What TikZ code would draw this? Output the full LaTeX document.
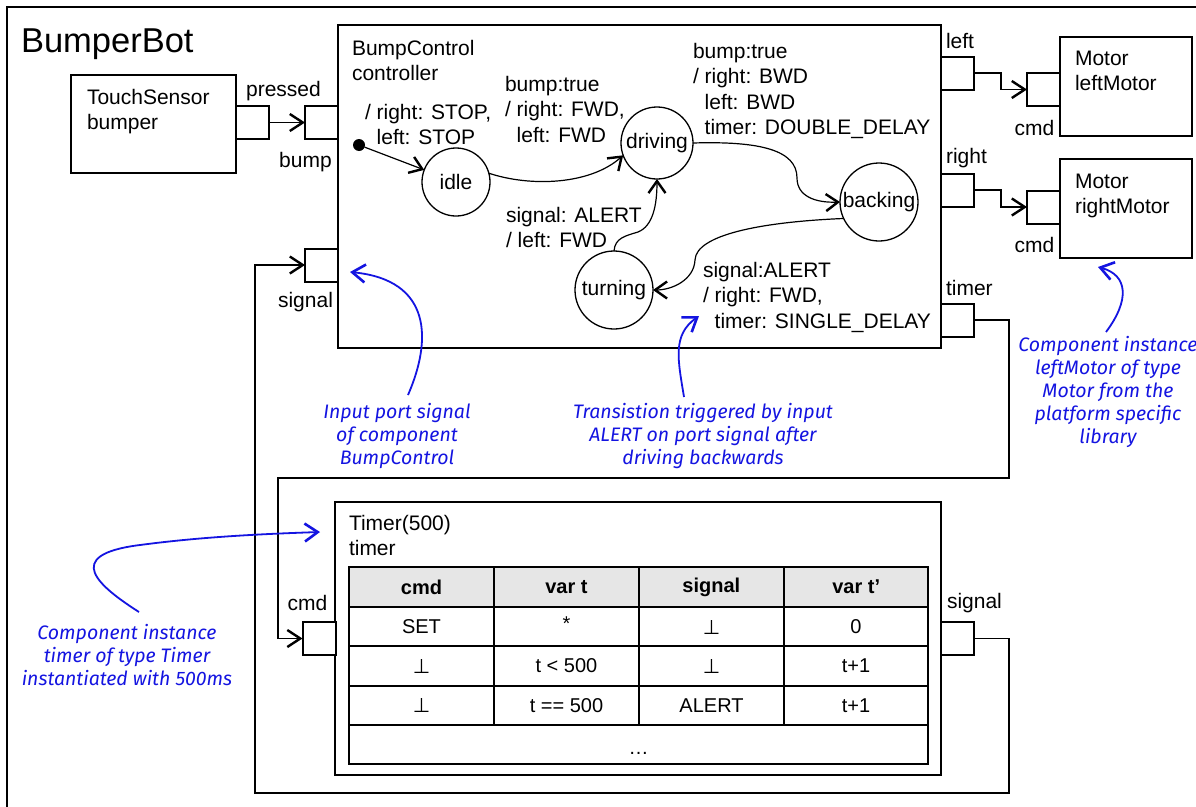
\documentclass[tikz,border=0pt]{standalone}
\usepackage{fontspec}
\setmainfont{Liberation Sans}
\newfontfamily\notefont{Fira Sans}
\newfontfamily\tackfont{DejaVu Sans}
\usetikzlibrary{arrows.meta}
\definecolor{noteblue}{RGB}{20,20,225}
\definecolor{hdrgray}{RGB}{230,230,230}
\begin{document}
\begin{tikzpicture}[x=1pt,y=-1pt,
  every node/.style={inner sep=0pt, outer sep=0pt},
  comp/.style={draw, line width=2pt, rectangle, anchor=north west},
  port/.style={draw, line width=2pt, rectangle, minimum size=33pt, fill=white},
  st/.style={draw, circle, line width=1.3pt, inner sep=0pt, font=\fontsize{21}{25.5}\selectfont},
  txt/.style={font=\fontsize{21}{25.5}\selectfont, align=left, anchor=north west},
  plbl/.style={font=\fontsize{21}{25.5}\selectfont},
  cell/.style={font=\fontsize{20}{24}\selectfont},
  conn/.style={line width=1.4pt, -{Straight Barb[length=13pt,width=17pt,line width=2.4pt]}},
  trans/.style={line width=1.2pt, -{Straight Barb[length=12pt,width=17pt,line width=2.4pt]}},
  note/.style={text=noteblue, font=\notefont\itshape\fontsize{19.5}{23}\selectfont, align=center, anchor=north},
  nconn/.style={draw=noteblue, line width=1.8pt, -{Straight Barb[length=13pt,width=18pt,line width=2.6pt]}},
  tbl/.style={line width=1.3pt}
]
\useasboundingbox (0,0) rectangle (1196,806);
\clip (0,0) rectangle (1196,806);
\fill[white] (0,0) rectangle (1196,806);

% outer frame
\draw[line width=2pt] (7,7) rectangle (1260,860);
\node[anchor=north west, font=\fontsize{34.5}{40}\selectfont] (title) at (21,29) {BumperBot};

% components
\node[comp, minimum width=165pt, minimum height=98pt] (ts) at (71,75) {};
\node[txt] (tstxt) at (87,89) {TouchSensor\\bumper};

\node[comp, minimum width=603pt, minimum height=323pt] (bc) at (338,25) {};
\node[txt] (bctxt) at (352,40) {BumpControl\\controller};

\node[comp, minimum width=132pt, minimum height=99pt] (lm) at (1060,37) {};
\node[txt] (lmtxt) at (1075,51) {Motor\\leftMotor};

\node[comp, minimum width=132pt, minimum height=99pt] (rm) at (1060,159) {};
\node[txt] (rmtxt) at (1075,174) {Motor\\rightMotor};

\node[comp, minimum width=606pt, minimum height=273pt] (tm) at (335,502) {};
\node[txt] (tmtxt) at (349,515) {Timer(500)\\timer};

% table
\fill[hdrgray] (349,567) rectangle (928,607);
\draw[tbl] (349,567) rectangle (928,764);
\foreach \yy in {607,646,686,725} \draw[tbl] (349,\yy) -- (928,\yy);
\foreach \xx in {494,639,784} \draw[tbl] (\xx,567) -- (\xx,725);
\foreach \t [count=\i] in {cmd,var t,signal,var t’}
  \node[cell, font=\fontsize{20}{24}\selectfont\bfseries] (h\i) at ({421.5+(\i-1)*144.9},587) {\t};
\node[cell] (c11) at (421.5,627) {SET};
\node[cell] (c12) at (566.5,624) {*};
\node[cell] (c13) at (711.5,627) {\tackfont ⊥};
\node[cell] (c14) at (856,627) {0};
\node[cell] (c21) at (421.5,666) {\tackfont ⊥};
\node[cell] (c22) at (566.5,666) {t < 500};
\node[cell] (c23) at (711.5,666) {\tackfont ⊥};
\node[cell] (c24) at (856,666) {t+1};
\node[cell] (c31) at (421.5,705.5) {\tackfont ⊥};
\node[cell] (c32) at (566.5,705.5) {t == 500};
\node[cell] (c33) at (711.5,705.5) {ALERT};
\node[cell] (c34) at (856,705.5) {t+1};
\node[cell, anchor=base] (c41) at (638.5,754) {\dots};

% wires
\coordinate (w1) at (1009,478);
\coordinate (w2) at (278,478);
\coordinate (w3) at (1009,793);
\coordinate (w4) at (255,793);

% ports
\node[port] (pressed) at (252.5,122.5) {};
\node[port] (bump) at (321.5,122.5) {};
\node[port] (sig) at (321.5,265) {};
\node[port] (left) at (957.5,73) {};
\node[port] (right) at (957.5,190) {};
\node[port] (timerp) at (957.5,320) {};
\node[port] (lcmd) at (1043.5,89.5) {};
\node[port] (rcmd) at (1043.5,207) {};
\node[port] (tcmd) at (319,638.5) {};
\node[port] (tsig) at (957.5,638.5) {};

% port labels
\node[plbl] (lpressed) at (283.5,91) {pressed};
\node[plbl] (lbump) at (305.5,162) {bump};
\node[plbl] (lsig) at (305.5,302) {signal};
\node[plbl, anchor=west] (lleft) at (946,41) {left};
\node[plbl, anchor=west] (lright) at (946,158) {right};
\node[plbl, anchor=west] (ltimer) at (946,288) {timer};
\node[plbl] (llcmd) at (1034.5,128) {cmd};
\node[plbl] (lrcmd) at (1034.5,245) {cmd};
\node[plbl] (ltcmd) at (307.5,603) {cmd};
\node[plbl, anchor=west] (ltsig) at (947,603) {signal};

% connectors
\draw[conn] (pressed.east) -- (bump.west);
\draw[conn] (left.east) -- ++(27,0) |- (lcmd.west);
\draw[conn] (right.east) -- ++(27,0) |- (rcmd.west);
\draw[conn] (timerp.east) -| (w1) -- (w2) |- (tcmd.west);
\draw[conn] (tsig.east) -| (w3) -- (w4) |- (sig.west);

% state machine
\node[circle, fill, minimum size=12pt] (init) at (359,145) {};
\node[st, minimum size=68pt] (idle) at (456,182) {idle};
\node[st, minimum size=72pt] (driving) at (657,143) {driving};
\node[st, minimum size=78pt] (turning) at (614,290) {turning};
\node[st, minimum size=78pt] (backing) at (879,202) {backing};

\draw[trans] (init) -- (idle);
\draw[trans] (idle.15) .. controls (530,187) and (590,185) .. (driving.200);
\draw[trans] (driving.east) .. controls (760,141) and (797,150) .. (797,178) .. controls (797,196) and (815,203) .. (backing.west);
\draw[trans] (backing.205) .. controls (760,222) and (696,235) .. (695,260) .. controls (694,280) and (672,290) .. (turning.east);
\draw[trans] (turning.north) .. controls (615,238) and (625,236) .. (638,232) .. controls (653,226) and (657,205) .. (driving.south);

% transition labels
\node[txt] (t0) at (365,104) {/ right: STOP,\\\hphantom{/ }left: STOP};
\node[txt] (t1) at (505,76) {bump:true\\/ right: FWD,\\\hphantom{/ }left: FWD};
\node[txt] (t2) at (506,207) {signal: ALERT\\/ left: FWD};
\node[txt] (t3) at (693,43) {bump:true\\/ right: BWD\\\hphantom{/ }left: BWD\\\hphantom{/ }timer: DOUBLE\_DELAY};
\node[txt] (t4) at (703,262) {signal:ALERT\\/ right: FWD,\\\hphantom{/ }timer: SINGLE\_DELAY};

% notes
\node[note] (n1) at (397,403) {Input port signal\\of component\\BumpControl};
\coordinate (n1s) at (408,395);
\coordinate (n1e) at (350,272);
\draw[nconn] (n1s) .. controls (432,340) and (432,280) .. (n1e);

\node[note] (n2) at (703,403) {Transistion triggered by input\\ALERT on port signal after\\driving backwards};
\coordinate (n2s) at (684,397);
\coordinate (n2e) at (699,316);
\draw[nconn] (n2s) .. controls (678,360) and (672,335) .. (n2e);

\node[note] (n3) at (1108,336) {Component instance\\leftMotor of type\\Motor from the\\platform specific\\library};
\coordinate (n3s) at (1106,332);
\coordinate (n3e) at (1098,267);
\draw[nconn] (n3s) .. controls (1130,300) and (1128,275) .. (n3e);

\node[note] (n4) at (127,624) {Component instance\\timer of type Timer\\instantiated with 500ms};
\coordinate (n4s) at (139,612);
\coordinate (n4e) at (320,532);
\draw[nconn] (n4s) .. controls (100,587) and (60,555) .. (140,545) .. controls (200,537) and (260,534) .. (n4e);
\end{tikzpicture}
\end{document}
